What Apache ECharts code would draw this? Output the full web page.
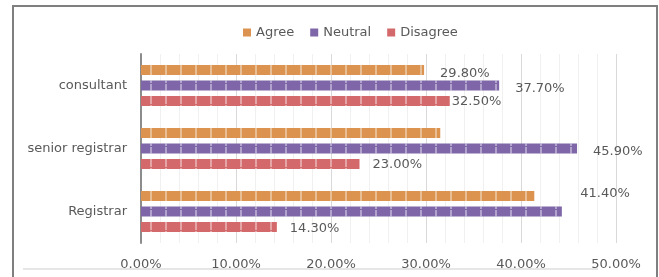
<!DOCTYPE html>
<html>
<head>
<meta charset="utf-8">
<script src="https://cdn.jsdelivr.net/npm/echarts@6/dist/echarts.min.js"></script>
<style>
  html, body { margin: 0; padding: 0; background: #fff; }
  #main { width: 659px; height: 277px; }
</style>
</head>
<body>
<div id="main"></div>
<script>
// categories, top to bottom
const roles = ['consultant', 'senior registrar', 'Registrar'];
const seriesNames = ['Agree', 'Neutral', 'Disagree'];
const agree = [29.8, 31.5, 41.4];
const neutral = [37.7, 45.9, 44.3];
const disagree = [32.5, 23.0, 14.3];
const xTicks = [0, 10, 20, 30, 40, 50];

// which bars carry a value label
const showLabel = [
  [true, false, true],
  [true, true, false],
  [true, true, true]
];
// label nudges [dx, dy] per series / category
const labelNudge = [
  [[11, 4], null, [41, -2]],
  [[11, 3], [11, 3], null],
  [[-3, 1], [8, 1], [8, 2]]
];

const colors = ['#DB934F', '#7E66A8', '#D4696B'];
const values = [agree, neutral, disagree];

const myChart = echarts.init(document.getElementById('main'));

const series = seriesNames.map(function (name, s) {
  return {
    name: name,
    type: 'bar',
    barWidth: 10,
    barGap: '55%',
    itemStyle: {
      color: colors[s],
      decal: {
        symbol: 'rect',
        symbolSize: 1,
        color: 'rgba(255,255,255,0.4)',
        dashArrayX: [2, 13],
        dashArrayY: [20, 1]
      }
    },
    data: values[s].map(function (v, i) {
      const n = labelNudge[s][i] || [0, 0];
      return {
        value: v,
        label: {
          show: showLabel[s][i],
          position: 'right',
          distance: 5,
          offset: n,
          formatter: function (p) { return p.value.toFixed(2) + '%'; },
          color: '#595959',
          fontSize: 13,
          fontFamily: 'DejaVu Sans'
        }
      };
    })
  };
});

const option = {
  animation: false,
  textStyle: { fontFamily: 'DejaVu Sans' },
  legend: {
    data: seriesNames,
    top: 21,
    left: 238,
    itemWidth: 8,
    itemHeight: 8,
    itemGap: 16,
    icon: 'rect',
    itemStyle: { decal: 'none', borderWidth: 0 },
    textStyle: { color: '#595959', fontSize: 13, fontFamily: 'DejaVu Sans' }
  },
  grid: { left: 141, right: 43, top: 54, bottom: 34, containLabel: false },
  xAxis: {
    type: 'value',
    min: xTicks[0],
    max: xTicks[xTicks.length - 1],
    interval: 10,
    axisLine: { show: false },
    axisTick: { show: false },
    axisLabel: {
      margin: 15,
      color: '#595959',
      fontSize: 13,
      formatter: function (v) { return v.toFixed(2) + '%'; }
    },
    splitLine: { lineStyle: { color: '#d9d9d9' } },
    minorTick: { show: false, splitNumber: 5 },
    minorSplitLine: { show: true, lineStyle: { color: '#f0f0f0' } }
  },
  yAxis: {
    type: 'category',
    data: roles,
    inverse: true,
    axisLine: { lineStyle: { color: '#8c8c8c', width: 2 } },
    axisTick: { show: false },
    axisLabel: { margin: 14, color: '#595959', fontSize: 13 }
  },
  graphic: [
    { type: 'polyline', shape: { points: [[13, 277], [13, 6], [657, 6], [657, 277]] },
      style: { stroke: '#7f7f7f', lineWidth: 2, fill: null } },
    { type: 'line', shape: { x1: 23, y1: 269, x2: 598, y2: 269 },
      style: { stroke: '#e6e6e6', lineWidth: 2 } }
  ],
  series: series
};

myChart.setOption(option);
</script>
</body>
</html>
